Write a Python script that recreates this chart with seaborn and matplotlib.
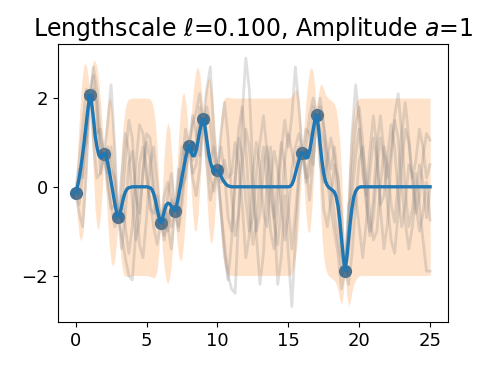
import numpy as np
import pandas as pd
import matplotlib
matplotlib.use("Agg")
import matplotlib.pyplot as plt
import seaborn as sns

# observed points
obs_x = [0, 1, 2, 3, 6, 7, 8, 9, 10, 16, 17, 19]
obs_y = [-0.13, 2.07, 0.75, -0.68, -0.81, -0.54, 0.93, 1.53, 0.37, 0.77, 1.62, -1.9]

grid_a = np.arange(0, 4.001, 0.125)
mean_a = [-0.13, 0.0, 0.2, 0.45, 0.75, 1.1, 1.45, 1.78, 2.07,
          1.9, 1.55, 1.15, 0.9, 0.72, 0.66, 0.68, 0.75,
          0.7, 0.55, 0.35, 0.12, -0.12, -0.36, -0.56, -0.68,
          -0.6, -0.42, -0.25, -0.12, -0.05, -0.02, -0.01, 0.0]
half_a = [0, 0.74, 1.3, 1.68, 1.82, 1.68, 1.3, 0.74,
          0, 0.74, 1.3, 1.68, 1.82, 1.68, 1.3, 0.74,
          0, 0.74, 1.3, 1.68, 1.82, 1.68, 1.3, 0.74,
          0, 0.75, 1.35, 1.72, 1.9, 1.97, 2.0, 2.0, 2.0]

grid_b = np.arange(5, 11.001, 0.125)
mean_b = [0.0, -0.01, -0.02, -0.06, -0.15, -0.3, -0.5, -0.68, -0.81,
          -0.72, -0.55, -0.42, -0.37, -0.38, -0.44, -0.5, -0.54,
          -0.42, -0.22, 0.0, 0.22, 0.45, 0.65, 0.82, 0.93,
          0.8, 0.7, 0.7, 0.82, 1.02, 1.25, 1.43, 1.53,
          1.35, 1.05, 0.78, 0.56, 0.43, 0.38, 0.37, 0.37,
          0.32, 0.24, 0.16, 0.1, 0.05, 0.02, 0.01, 0.0]
half_b = [2.0, 2.0, 2.0, 1.97, 1.9, 1.72, 1.35, 0.75,
          0, 0.74, 1.3, 1.68, 1.82, 1.68, 1.3, 0.74,
          0, 0.74, 1.3, 1.68, 1.82, 1.68, 1.3, 0.74,
          0, 0.74, 1.3, 1.68, 1.82, 1.68, 1.3, 0.74,
          0, 0.74, 1.3, 1.68, 1.82, 1.68, 1.3, 0.74,
          0, 0.75, 1.35, 1.72, 1.9, 1.97, 2.0, 2.0, 2.0]

grid_c = np.arange(15, 20.501, 0.125)
mean_c = [0.0, 0.01, 0.05, 0.15, 0.3, 0.45, 0.6, 0.71, 0.77,
          0.7, 0.65, 0.66, 0.8, 1.02, 1.28, 1.5, 1.62,
          1.35, 0.95, 0.58, 0.3, 0.12, 0.03, -0.02, -0.05,
          -0.08, -0.12, -0.22, -0.42, -0.75, -1.15, -1.57, -1.9,
          -1.6, -1.18, -0.78, -0.45, -0.22, -0.1, -0.04, -0.01,
          0.0, 0.0, 0.0, 0.0]
half_c = [2.0, 2.0, 2.0, 1.97, 1.9, 1.72, 1.35, 0.75,
          0, 0.74, 1.3, 1.68, 1.82, 1.68, 1.3, 0.74,
          0, 0.75, 1.35, 1.72, 1.9, 1.96, 1.99, 2.0,
          2.0, 2.0, 1.99, 1.96, 1.9, 1.8, 1.5, 0.85,
          0, 0.85, 1.5, 1.8, 1.9, 1.97, 2.0, 2.0,
          2.0, 2.0, 2.0, 2.0, 2.0]

# a few posterior draws, read roughly on 0.25 steps from 0 to 25
sample_x = np.arange(0, 25.001, 0.25)
sample_1 = [-0.13, 0.6, 1.4, 2.2, 2.07, 2.5, 1.6, 0.9, 0.75, 0.2, -0.4, -0.9,
            -0.68, 0.3, 1.2, 0.8, -0.3, -1.2, -0.8, 0.4, 1.0, 0.6, -0.2, -0.9,
            -0.81, -0.2, 0.1, -0.3, -0.54, -0.4, 0.5, 1.3, 0.93, 0.3, 0.5, 1.4,
            1.53, 1.8, 1.4, 0.6, 0.37, 1.2, 1.9, 1.1, -0.2, -1.1, -0.6, 0.5,
            1.3, 0.9, -0.2, -1.0, -0.6, 0.4, 0.9, 0.2, -0.8, -1.3, -0.5, 0.6,
            1.2, 0.8, 0.4, 0.9, 0.77, 0.2, 0.6, 1.8, 1.62, 0.8, -0.5, -0.9,
            -0.3, 0.5, 0.2, -1.2, -1.9, -0.9, 0.4, 1.4, 1.8, 1.0, -0.3, -1.1,
            -0.7, 0.4, 1.1, 0.6, -0.4, -1.2, -1.5, -0.6, 0.5, 1.3, 1.0, 0.1,
            -0.6, -0.2, 0.7, 1.2, 1.05]
sample_2 = [-0.13, -0.6, -0.9, 0.3, 2.07, 1.0, 0.2, 0.3, 0.75, 1.4, 2.3, 0.9,
            -0.68, -1.4, -0.6, 0.5, 0.8, -0.2, -1.3, -1.6, -0.7, 0.5, 0.9, 0.1,
            -0.81, -1.2, -0.6, -0.9, -0.54, 0.4, 0.0, 0.2, 0.93, 1.6, 1.2, 0.7,
            1.53, 0.5, -0.3, 0.1, 0.37, -0.6, -1.5, -2.1, -1.2, 0.2, 1.1, 0.7,
            -0.3, -1.0, -0.7, 0.3, 1.0, 1.6, 0.8, -0.3, -0.7, 0.1, 1.0, 0.5,
            -0.5, -1.4, -0.6, 0.3, 0.77, 1.3, 1.2, 0.5, 1.62, 1.8, 1.3, 0.6,
            0.1, -0.6, -1.2, -1.8, -1.9, -1.5, -0.6, -0.2, -0.9, -1.6, -0.8, 0.3,
            1.1, 0.6, -0.4, -0.2, 0.7, 1.4, 0.9, -0.2, -0.9, -0.4, 0.5, 0.3,
            -0.4, -1.0, -0.6, 0.1, -0.75]
sample_3 = [-0.13, 0.1, 0.8, 1.0, 2.07, 2.7, 2.2, 1.1, 0.75, 0.3, 0.9, 0.1,
            -0.68, -1.1, -1.6, -2.0, -2.1, -1.0, 0.5, 0.9, 0.2, -0.3, -0.9, -1.3,
            -0.81, -0.8, -1.0, -0.3, -0.54, -1.0, -0.4, 0.4, 0.93, 1.4, 1.7, 2.1,
            1.53, 2.2, 2.7, 1.2, 0.37, -0.5, -1.3, -2.0, -2.3, -2.4, -0.6, 1.6,
            2.9, 2.2, 0.4, -1.1, -2.2, -1.5, 0.2, 0.9, -0.5, -2.2, -1.6, -0.2,
            -1.5, -2.7, -1.2, 0.2, 0.77, 0.4, -0.3, 0.6, 1.62, 1.3, 1.0, 0.2,
            -0.5, -1.0, -1.5, -2.3, -1.9, -0.6, 1.2, 2.3, 1.5, 0.3, -0.2, 0.8,
            1.6, 0.9, -0.5, -1.4, -0.8, 0.6, 1.6, 2.1, 1.2, -0.1, -0.9, -0.5,
            0.3, -0.4, -1.2, -1.9, -1.9]
sample_4 = [-0.13, -0.4, 0.3, 1.1, 2.07, 1.6, 1.2, 1.3, 0.75, 0.0, -0.5, -0.4,
            -0.68, -0.2, -0.9, -1.5, -0.9, 0.5, 1.4, 1.2, 0.4, -0.5, -0.6, -0.2,
            -0.81, -1.1, -0.2, 0.3, -0.54, -0.9, -0.1, 0.9, 0.93, 0.2, -0.2, 0.4,
            1.53, 1.2, 0.2, -0.1, 0.37, 0.9, 0.3, -0.7, -1.0, 0.1, 1.3, 1.8,
            0.9, -0.4, -1.3, -0.8, 0.3, 0.9, 0.1, -1.0, -1.4, -0.5, 0.8, 1.5,
            0.9, 1.6, 2.7, 1.8, 0.77, 0.9, 1.6, 2.0, 1.62, 0.5, 0.1, 0.6,
            1.1, 0.7, -0.4, -1.5, -1.9, -2.2, -1.5, -0.4, 0.6, 0.9, 0.2, -0.6,
            -1.2, -1.0, 0.0, 0.9, 0.5, -0.4, -0.8, 0.1, 1.2, 1.9, 1.1, 0.2,
            0.6, 1.3, 0.9, 0.2, 0.5]
sample_5 = [-0.13, 0.4, 0.2, 1.6, 2.07, 2.2, 1.9, 0.3, 0.75, 0.9, 0.4, 0.2,
            -0.68, -0.5, 0.6, 1.5, 1.1, -0.2, -0.6, 0.3, 1.2, 1.1, 0.1, -0.6,
            -0.81, -0.4, -0.9, -1.4, -0.54, 0.1, 0.9, 0.6, 0.93, 0.6, 1.0, 1.8,
            1.53, 0.7, 0.6, 0.9, 0.37, 0.1, 0.6, 0.2, 0.3, 1.0, 0.5, -0.4,
            -1.6, -1.1, 0.3, 1.0, 0.4, -0.6, -0.9, 0.1, 0.8, 0.4, -0.4, -1.2,
            -0.6, 0.4, 0.9, 1.2, 0.77, 0.1, 0.3, 1.2, 1.62, 2.0, 1.4, 0.8,
            0.4, 0.9, 0.2, -0.6, -1.9, -0.4, -0.2, 0.7, 1.3, 0.5, -0.4, -1.0,
            -0.3, 0.9, 1.6, 0.8, 0.2, 0.8, 1.5, 1.1, 0.0, -0.8, -1.4, -0.9,
            -0.2, 0.5, 0.1, -0.7, 0.0]
samples = [sample_1, sample_2, sample_3, sample_4, sample_5]

# stitch the regions together, flat prior (0 +/- 2) in the gaps
post_x = np.concatenate([grid_a, grid_b, grid_c, [25]])
post_mean = np.array(mean_a + mean_b + mean_c + [0.0])
post_half = np.array(half_a + half_b + half_c + [2.0])

fig, ax = plt.subplots(figsize=(4.91, 3.69), dpi=100)
fig.subplots_adjust(left=0.118, right=0.912, bottom=0.127, top=0.881)

ax.fill_between(post_x, post_mean - post_half, post_mean + post_half,
                color='C1', alpha=0.22, linewidth=0, zorder=1)
# markers end up dimmed by the draws piling over them
sns.scatterplot(x=obs_x, y=obs_y, color='#3f6e94', s=90, linewidth=0, zorder=2, ax=ax)
for s in samples:
    sns.lineplot(x=sample_x, y=s, color='gray', alpha=0.25, linewidth=2.0,
                 estimator=None, sort=False, zorder=3, ax=ax)
sns.lineplot(x=post_x, y=post_mean, color='C0', linewidth=2.4,
             estimator=None, sort=False, zorder=4, ax=ax)

ax.set_xlim(-1.25, 26.25)
ax.set_ylim(-3.05, 3.22)
ax.set_xticks([0, 5, 10, 15, 20, 25])
ax.set_yticks([-2, 0, 2])
ax.tick_params(labelsize=13)
ax.set_title(r'Lengthscale $\ell$=0.100, Amplitude $a$=1', fontsize=17)

plt.savefig('out.png', dpi=100)
